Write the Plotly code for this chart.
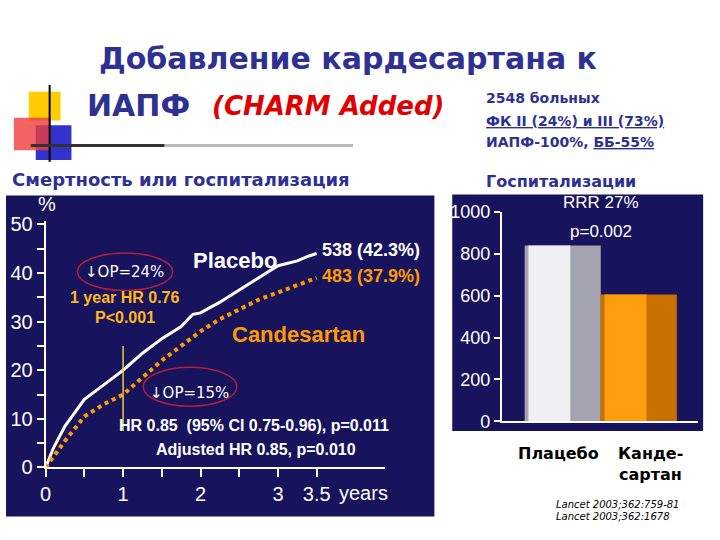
import plotly.graph_objects as go

# Kaplan-Meier style curves (years, %)
placebo_years = [0, 0.1, 0.25, 0.5, 0.75, 1.0, 1.25, 1.5, 1.75, 1.9, 2.0, 2.25, 2.5, 2.75, 3.0, 3.25, 3.4, 3.5]
placebo_pct = [0, 4, 8.5, 14, 17, 20, 23.5, 26.5, 29, 31.5, 31.8, 34, 36.5, 39, 41.5, 42.5, 43.5, 44]
cand_years = [0, 0.25, 0.5, 0.75, 1.0, 1.25, 1.5, 1.75, 2.0, 2.25, 2.5, 2.75, 3.0, 3.25, 3.5]
cand_pct = [0, 5.5, 10.5, 13, 15, 18.5, 22, 25, 28, 30.5, 32.5, 34.5, 36, 37.5, 39]

# Hospitalisations
bar_pos = [0, 1]
bar_values = [839, 605]

x_tickvals = [0, 0.5, 1, 1.5, 2, 2.5, 3, 3.5]
x_ticktext = ["0", "", "1", "", "2", "", "3", "3.5"]
y_tickvals = [0, 5, 10, 15, 20, 25, 30, 35, 40, 45, 50]
y_ticktext = ["0", "", "10", "", "20", "", "30", "", "40", "", "50"]

W, H = 720, 540
NAVY = "#17135c"
TITLE_BLUE = "#2e3192"
ORANGE = "#ff9900"
YEL = "#ffb81c"
CF = "Liberation Sans"
TF = "DejaVu Sans"


def px(x):
    return x / W


def py(y):
    return 1 - y / H


fig = go.Figure()

fig.add_trace(go.Scatter(x=placebo_years, y=placebo_pct, mode="lines",
                         line=dict(color="white", width=3), xaxis="x", yaxis="y"))
fig.add_trace(go.Scatter(x=cand_years, y=cand_pct, mode="lines",
                         line=dict(color=ORANGE, width=4, dash="dot"), xaxis="x", yaxis="y"))

# bars: darker base plus a lighter, narrower highlight on the left side
fig.add_trace(go.Bar(x=bar_pos, y=bar_values, width=1,
                     marker=dict(color=["#a4a4b0", "#c87000"], line=dict(width=0)),
                     xaxis="x2", yaxis="y2"))
fig.add_trace(go.Bar(x=bar_pos, y=bar_values, width=0.55, offset=-0.45,
                     marker=dict(color=["#f0f0f2", "#ff9e0c"], line=dict(width=0)),
                     xaxis="x2", yaxis="y2"))

shapes = []
# dark panels
shapes.append(dict(type="rect", xref="paper", yref="paper", x0=px(0), x1=px(432),
                   y0=py(527), y1=py(193), fillcolor=NAVY, line_width=0, layer="below"))
shapes.append(dict(type="rect", xref="paper", yref="paper", x0=px(450), x1=px(703),
                   y0=py(438), y1=py(192), fillcolor=NAVY, line_width=0, layer="below"))
# decorative squares
shapes.append(dict(type="rect", xref="paper", yref="paper", x0=px(23), x1=px(55),
                   y0=py(115), y1=py(85), fillcolor="#ffcc00", line_width=0))
shapes.append(dict(type="rect", xref="paper", yref="paper", x0=px(30), x1=px(66),
                   y0=py(156), y1=py(120), fillcolor="#3333cc", line_width=0))
shapes.append(dict(type="rect", xref="paper", yref="paper", x0=px(8), x1=px(45),
                   y0=py(146), y1=py(112), fillcolor="rgba(240,60,60,0.8)", line_width=0))
shapes.append(dict(type="line", xref="paper", yref="paper", x0=px(44), x1=px(44),
                   y0=py(158), y1=py(78), line=dict(color="black", width=2)))
shapes.append(dict(type="line", xref="paper", yref="paper", x0=px(25), x1=px(160),
                   y0=py(141), y1=py(141), line=dict(color="#333", width=3)))
shapes.append(dict(type="line", xref="paper", yref="paper", x0=px(160), x1=px(350),
                   y0=py(141), y1=py(141), line=dict(color="#bbb", width=3)))
# ellipses and vertical marker
shapes.append(dict(type="circle", xref="x", yref="y", x0=0.41, x1=1.64, y0=36.4, y1=44.1,
                   line=dict(color="#b0203a", width=1.5)))
shapes.append(dict(type="circle", xref="x", yref="y", x0=1.26, x1=2.47, y0=12.6, y1=20.6,
                   line=dict(color="#b0203a", width=1.5)))
shapes.append(dict(type="line", xref="x", yref="y", x0=1, x1=1, y0=7.5, y1=25,
                   line=dict(color="#e8d040", width=1.5)))

ann = []


def a(x, y, text, size, color, xref="x", yref="y", xanchor="center", bold=True, font=CF, italic=False):
    t = text
    if bold:
        t = "<b>" + t + "</b>"
    if italic:
        t = "<i>" + t + "</i>"
    ann.append(dict(x=x, y=y, xref=xref, yref=yref, text=t, showarrow=False,
                    xanchor=xanchor, yanchor="middle",
                    font=dict(size=size, color=color, family=font)))


a(2.45, 42.5, "Placebo", 22, "white")
a(4.2, 44.7, "538 (42.3%)", 18, "white")
a(4.2, 39.3, "483 (37.9%)", 18, ORANGE)
a(3.27, 27.3, "Candesartan", 22, ORANGE)
a(1.02, 40.3, "↓OP=24%", 15, "white", bold=False, font="DejaVu Sans")
a(1.03, 35, "1 year HR 0.76", 16, YEL)
a(1.03, 30.8, "P&lt;0.001", 16, YEL)
a(1.86, 15.4, "↓OP=15%", 15, "white", bold=False, font="DejaVu Sans")
a(2.69, 8.7, "HR 0.85  (95% CI 0.75-0.96), p=0.011", 16, "white")
a(2.72, 3.75, "Adjusted HR 0.85, p=0.010", 16, "white")
a(px(41), py(202), "%", 20, "white", xref="paper", yref="paper", bold=False)
a(px(360), py(503), "years", 20, "white", xref="paper", yref="paper", bold=False)

a(px(600), py(200), "RRR 27%", 17, "white", xref="paper", yref="paper", bold=False)
a(px(600), py(230), "p=0.002", 17, "white", xref="paper", yref="paper", bold=False)
a(px(557), py(461), "Плацебо", 16, "black", xref="paper", yref="paper", font=TF)
a(px(650), py(461), "Канде-", 16, "black", xref="paper", yref="paper", font=TF)
a(px(650), py(483), "сартан", 16, "black", xref="paper", yref="paper", font=TF)
a(px(553), py(514), "Lancet 2003;362:759-81", 10, "black", xref="paper", yref="paper",
  xanchor="left", bold=False, italic=True, font=TF)
a(px(553), py(527), "Lancet 2003;362:1678", 10, "black", xref="paper", yref="paper",
  xanchor="left", bold=False, italic=True, font=TF)

# header
a(px(345), py(50), "Добавление кардесартана к", 30, TITLE_BLUE, xref="paper", yref="paper", font=TF)
a(px(80), py(99), "ИАПФ", 30, TITLE_BLUE, xref="paper", yref="paper", xanchor="left", font=TF)
a(px(206), py(100), "(CHARM Added)", 26, "#e00000", xref="paper", yref="paper",
  xanchor="left", italic=True, font=TF)
a(px(482), py(92), "2548 больных", 14, TITLE_BLUE, xref="paper", yref="paper", xanchor="left", font=TF)
a(px(482), py(115), "<u>ФК II (24%) и III (73%)</u>", 14, TITLE_BLUE, xref="paper", yref="paper",
  xanchor="left", font=TF)
a(px(482), py(137), "ИАПФ-100%, <u>ББ-55%</u>", 14, TITLE_BLUE, xref="paper", yref="paper",
  xanchor="left", font=TF)
a(px(4), py(176), "Смертность или госпитализация", 18, TITLE_BLUE, xref="paper", yref="paper",
  xanchor="left", font=TF)
a(px(482), py(178), "Госпитализации", 16, TITLE_BLUE, xref="paper", yref="paper",
  xanchor="left", font=TF)

axis_common = dict(showgrid=False, zeroline=False, showline=True, linecolor="white", linewidth=2,
                   ticks="outside", tickcolor="white", tickwidth=2,
                   tickfont=dict(color="white", size=20, family=CF), fixedrange=True)

fig.update_layout(
    width=W, height=H, margin=dict(l=0, r=0, t=0, b=0),
    paper_bgcolor="white", plot_bgcolor="rgba(0,0,0,0)",
    showlegend=False, barmode="overlay", hovermode=False,
    xaxis=dict(domain=[px(40), px(382)], range=[0, 4.38], anchor="y",
               tickvals=x_tickvals, ticktext=x_ticktext, ticklen=8, **axis_common),
    yaxis=dict(domain=[py(476), py(220)], range=[0, 50.6], anchor="x",
               tickvals=y_tickvals, ticktext=y_ticktext, ticklen=7, **axis_common),
    xaxis2=dict(domain=[px(500), px(698)], range=[-0.8, 1.78], anchor="y2",
                showticklabels=False, **{k: v for k, v in axis_common.items() if k != "ticks"}),
    yaxis2=dict(domain=[py(428), py(210)], range=[0, 1000], anchor="x2",
                tickvals=[0, 200, 400, 600, 800, 1000], ticklen=6, **axis_common),
    shapes=shapes, annotations=ann,
)
fig.update_layout(yaxis2_tickfont_size=18)

fig.write_html("out.html", config={"displayModeBar": False},
               post_script="document.body.style.margin='0';document.body.style.overflow='hidden';")
